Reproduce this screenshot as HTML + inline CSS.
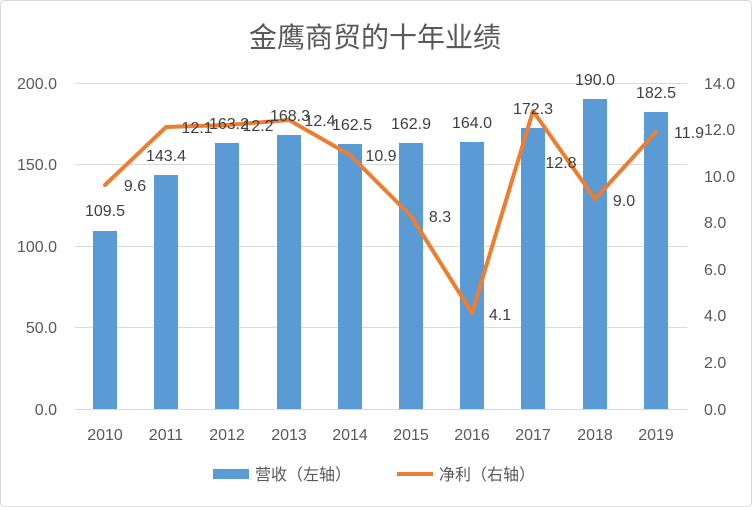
<!DOCTYPE html>
<html><head><meta charset="utf-8"><style>
html,body{margin:0;padding:0;background:#fff;}
svg{display:block;font-family:"Liberation Sans","Noto Sans CJK SC",sans-serif;}
</style></head><body>
<svg width="752" height="507" viewBox="0 0 752 507" xmlns="http://www.w3.org/2000/svg">
<rect x="0.5" y="0.5" width="751" height="506" rx="4" fill="#fff" stroke="#d9d9d9"/>
<text x="375" y="47" text-anchor="middle" font-size="28" fill="#595959">金鹰商贸的十年业绩</text>
<g stroke="#d9d9d9" stroke-width="1">
<line x1="75" y1="83.5" x2="687" y2="83.5"/>
<line x1="75" y1="164.5" x2="687" y2="164.5"/>
<line x1="75" y1="246.5" x2="687" y2="246.5"/>
<line x1="75" y1="327.5" x2="687" y2="327.5"/>
<line x1="75" y1="409.5" x2="687" y2="409.5"/>
</g>
<g font-size="16" fill="#595959" text-anchor="end">
<text x="57" y="89">200.0</text><text x="57" y="170">150.0</text><text x="57" y="252">100.0</text><text x="57" y="333">50.0</text><text x="57" y="415">0.0</text>
</g>
<g font-size="16" fill="#595959">
<text x="704" y="89">14.0</text><text x="704" y="135">12.0</text><text x="704" y="182">10.0</text><text x="704" y="228">8.0</text><text x="704" y="275">6.0</text><text x="704" y="321">4.0</text><text x="704" y="368">2.0</text><text x="704" y="415">0.0</text>
</g>
<g fill="#5b9bd5">
<rect x="93" y="231" width="24" height="178"/>
<rect x="154" y="175" width="24" height="234"/>
<rect x="215" y="143" width="24" height="266"/>
<rect x="277" y="135" width="24" height="274"/>
<rect x="338" y="144" width="24" height="265"/>
<rect x="399" y="143" width="24" height="266"/>
<rect x="460" y="142" width="24" height="267"/>
<rect x="521" y="128" width="24" height="281"/>
<rect x="583" y="99" width="24" height="310"/>
<rect x="644" y="112" width="24" height="297"/>
</g>
<g font-size="16" fill="#595959" text-anchor="middle">
<text x="105" y="440">2010</text><text x="166" y="440">2011</text><text x="227" y="440">2012</text><text x="289" y="440">2013</text><text x="350" y="440">2014</text><text x="411" y="440">2015</text><text x="472" y="440">2016</text><text x="533" y="440">2017</text><text x="595" y="440">2018</text><text x="656" y="440">2019</text>
</g>
<polyline fill="none" stroke="#ed7d31" stroke-width="4" stroke-linejoin="round" stroke-linecap="round"
 points="105,185 166,127 227,125 289,120 350,155 411,216 472,313 533,111 595,199 656,132"/>
<g font-size="16" fill="#404040" text-anchor="middle">
<text x="105" y="216">109.5</text><text x="166" y="161">143.4</text><text x="229" y="129">163.2</text><text x="290" y="121">168.3</text><text x="352" y="130">162.5</text><text x="411" y="129">162.9</text><text x="472" y="128">164.0</text><text x="533" y="114">172.3</text><text x="595" y="85">190.0</text><text x="656" y="98">182.5</text>
<text x="135" y="191">9.6</text><text x="197" y="133">12.1</text><text x="258" y="131">12.2</text><text x="320" y="126">12.4</text><text x="381" y="161">10.9</text><text x="440" y="222">8.3</text><text x="500" y="320">4.1</text><text x="561" y="168">12.8</text><text x="624" y="206">9.0</text><text x="689" y="138">11.9</text>
</g>
<rect x="213" y="469" width="36" height="10" fill="#5b9bd5"/>
<text x="255" y="480" font-size="16" fill="#595959">营收（左轴）</text>
<line x1="397" y1="474" x2="433" y2="474" stroke="#ed7d31" stroke-width="4"/>
<text x="439" y="480" font-size="16" fill="#595959">净利（右轴）</text>
</svg>
</body></html>
